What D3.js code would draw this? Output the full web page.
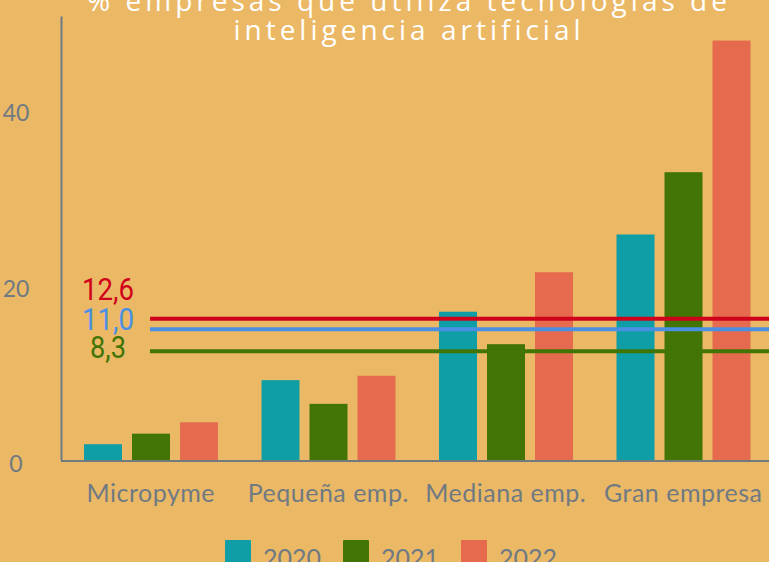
<!DOCTYPE html>
<html>
<head>
<meta charset="utf-8">
<script src="https://cdn.jsdelivr.net/npm/d3@7"></script>
<style>
  body { margin: 0; background: #ebb866; }
  svg { display: block; }
</style>
</head>
<body>
<script>
// data
const categories = ['Micropyme', 'Pequeña emp.', 'Mediana emp.', 'Gran empresa'];
const years = ['2020', '2021', '2022'];
const values2020 = [1.8, 9.1, 16.9, 25.7];
const values2021 = [3.0, 6.4, 13.2, 32.8];
const values2022 = [4.3, 9.6, 21.4, 47.8];
const yTicks = [0, 20, 40];
const refLevels = [16.1, 14.9, 12.4];
const refLabels = ['12,6', '11,0', '8,3'];
const titleLines = ['% empresas que utiliza tecnologías de', 'inteligencia artificial'];

const width = 769;
const height = 562;
const barColors = ['#0f9ea6', '#427505', '#e66b4e'];
const refColors = ['#d0021b', '#4a90e2', '#417505'];

const series = [values2020, values2021, values2022];

const svg = d3.select('body').append('svg')
  .attr('width', width)
  .attr('height', height);

const x0 = d3.scaleBand()
  .domain(categories)
  .range([62, 772]);

const x1 = d3.scaleBand()
  .domain(years)
  .range([22, 156])
  .paddingInner(0.2083);

const y = d3.scaleLinear()
  .domain([0, 50.6])
  .range([460, 16]);

// bars
const groups = svg.selectAll('g.cat')
  .data(categories)
  .enter()
  .append('g')
  .attr('class', 'cat')
  .attr('transform', d => `translate(${x0(d)}, 0)`);

groups.selectAll('rect')
  .data((d, i) => years.map((yr, j) => ({ year: yr, value: series[j][i], j })))
  .enter()
  .append('rect')
  .attr('x', d => x1(d.year))
  .attr('y', d => y(d.value))
  .attr('width', x1.bandwidth())
  .attr('height', d => y(0) - y(d.value))
  .attr('fill', d => barColors[d.j]);

// reference lines
svg.selectAll('line.ref')
  .data(refLevels)
  .enter()
  .append('line')
  .attr('class', 'ref')
  .attr('x1', 150)
  .attr('x2', 769)
  .attr('y1', d => y(d))
  .attr('y2', d => y(d))
  .attr('stroke', (d, i) => refColors[i])
  .attr('stroke-width', 4);

const refBaselines = [300, 330, 358];
svg.selectAll('text.ref')
  .data(refLabels)
  .enter()
  .append('text')
  .attr('class', 'ref')
  .attr('x', 108)
  .attr('y', (d, i) => refBaselines[i])
  .attr('text-anchor', 'middle')
  .attr('font-family', 'Roboto, sans-serif')
  .attr('font-size', 31)
  .attr('textLength', d => d.length === 3 ? 36 : 52)
  .attr('lengthAdjust', 'spacingAndGlyphs')
  .attr('fill', (d, i) => refColors[i])
  .text(d => d);

// axes
const yAxis = d3.axisLeft(y).tickValues(yTicks).tickSize(0).tickPadding(0);
const gy = svg.append('g')
  .attr('transform', 'translate(61, 0)')
  .call(yAxis);
gy.select('.domain').attr('stroke', '#6f7a83').attr('stroke-width', 2);
gy.selectAll('text')
  .attr('x', -45)
  .attr('dy', '0.38em')
  .attr('transform', 'translate(0, 3)')
  .attr('text-anchor', 'middle')
  .attr('font-family', 'Lato, sans-serif')
  .attr('font-size', 23)
  .attr('fill', '#6f7a83');

const xAxis = d3.axisBottom(x0).tickSize(0).tickPadding(0);
const gx = svg.append('g')
  .attr('transform', 'translate(0, 461)')
  .call(xAxis);
gx.select('.domain').attr('stroke', '#6f7a83').attr('stroke-width', 2)
  .attr('d', 'M61,0H769');
gx.selectAll('text')
  .attr('y', 41)
  .attr('dy', 0)
  .attr('font-family', 'Lato, sans-serif')
  .attr('font-size', 25)
  .attr('letter-spacing', 0.5)
  .attr('fill', '#6f7a83');

// title
svg.selectAll('text.title')
  .data(titleLines)
  .enter()
  .append('text')
  .attr('class', 'title')
  .attr('x', 409)
  .attr('y', (d, i) => 11 + i * 29)
  .attr('text-anchor', 'middle')
  .attr('font-family', '"Open Sans", sans-serif')
  .attr('font-size', 28)
  .attr('letter-spacing', 4)
  .attr('fill', '#ffffff')
  .text(d => d);

// legend
const legend = svg.selectAll('g.legend')
  .data(years)
  .enter()
  .append('g')
  .attr('class', 'legend')
  .attr('transform', (d, i) => `translate(${225 + i * 118}, 540)`);
legend.append('rect')
  .attr('width', 26)
  .attr('height', 26)
  .attr('rx', 1)
  .attr('fill', (d, i) => barColors[i]);
legend.append('text')
  .attr('x', 38)
  .attr('y', 27)
  .attr('font-family', 'Lato, sans-serif')
  .attr('font-size', 25)
  .attr('fill', '#6f7a83')
  .text(d => d);
</script>
</body>
</html>
